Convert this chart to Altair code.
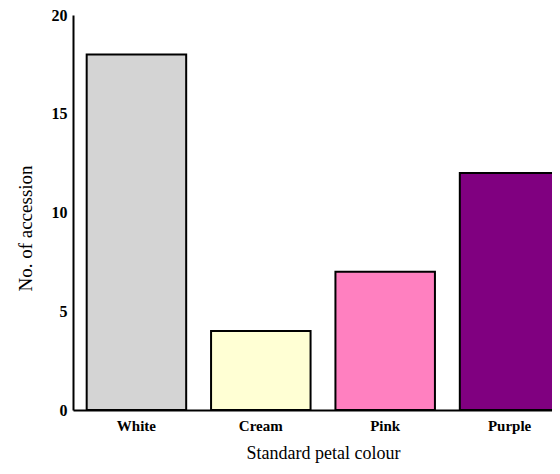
import altair as alt
import pandas as pd

categories = ["White", "Cream", "Pink", "Purple"]
counts = [18, 4, 7, 12]
colors = ["#D4D4D4", "#FFFFD4", "#FF80C0", "#800080"]

df = pd.DataFrame({"colour": categories, "count": counts})

FONT = "Liberation Serif, Times New Roman, DejaVu Serif, serif"

chart = (
    alt.Chart(df)
    .mark_bar(stroke="black", strokeWidth=2)
    .encode(
        x=alt.X(
            "colour:N",
            sort=categories,
            title="Standard petal colour",
            scale=alt.Scale(range=[0, 500], paddingInner=0.2, paddingOuter=0.11),
            axis=alt.Axis(
                labelAngle=0,
                ticks=False,
                labelPadding=8,
                labelFont=FONT,
                labelFontSize=15,
                labelFontWeight="bold",
                labelColor="black",
                titleFont=FONT,
                titleFontSize=18,
                titleFontWeight="normal",
                titleColor="black",
                titlePadding=11,
                domainColor="black",
                domainWidth=2,
            ),
        ),
        y=alt.Y(
            "count:Q",
            title="No. of accession",
            scale=alt.Scale(domain=[0, 20], nice=False),
            axis=alt.Axis(
                values=[0, 5, 10, 15, 20],
                grid=False,
                ticks=False,
                labelPadding=6,
                labelFont=FONT,
                labelFontSize=16,
                labelFontWeight="bold",
                labelColor="black",
                titleFont=FONT,
                titleFontSize=19,
                titleFontWeight="normal",
                titleColor="black",
                titlePadding=16,
                titleY=213,
                domainColor="black",
                domainWidth=2,
            ),
        ),
        color=alt.Color(
            "colour:N",
            scale=alt.Scale(domain=categories, range=colors),
            legend=None,
        ),
    )
    .properties(
        width=479,
        height=395,
        autosize=alt.AutoSizeParams(type="none"),
        padding={"left": 65, "top": 7, "right": 0, "bottom": 55},
    )
    .configure_view(stroke=None)
)

chart.save("out.html", embed_options={"renderer": "svg", "actions": False})
